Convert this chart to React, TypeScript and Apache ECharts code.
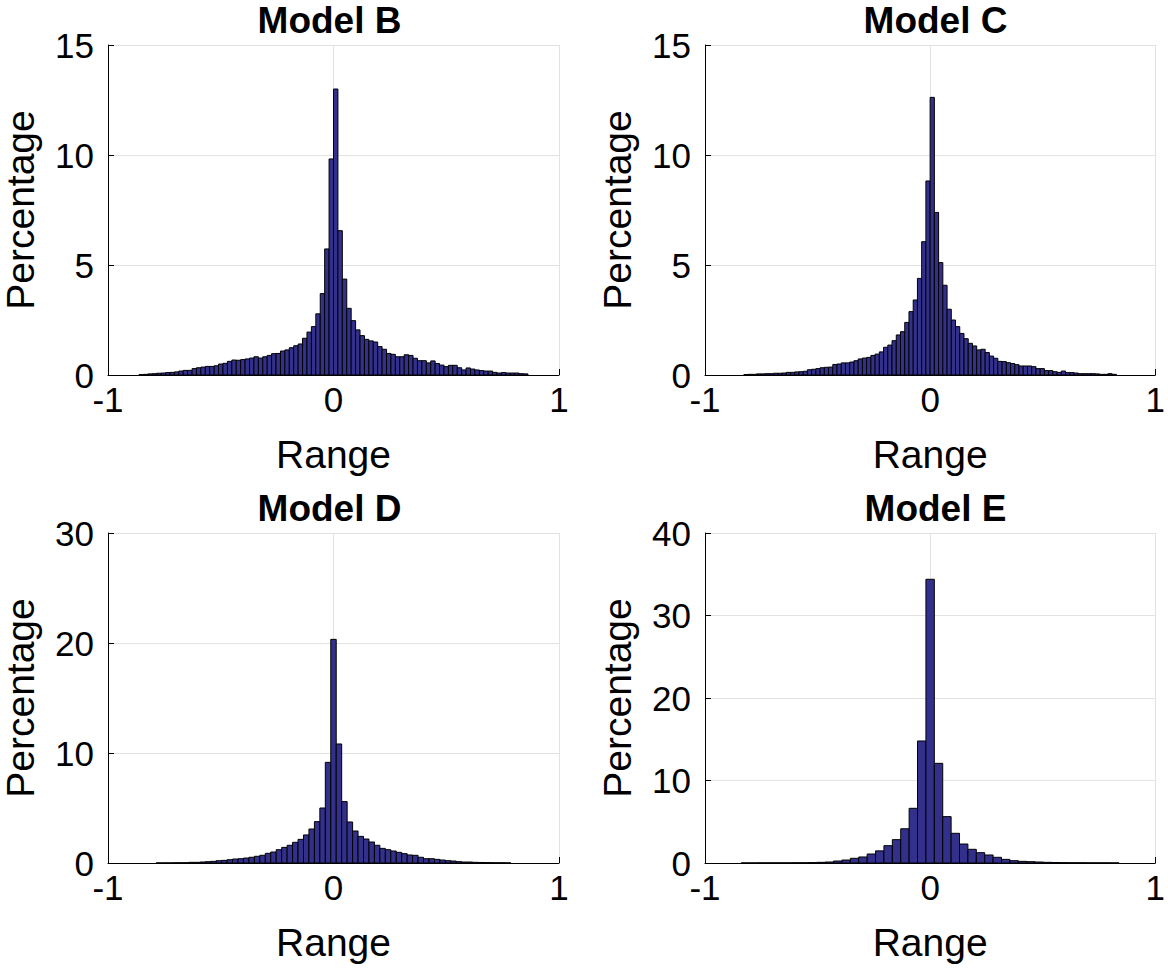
import React, { useEffect, useRef } from "react";
import * as echarts from "echarts";

const titles = ["Model B", "Model C", "Model D", "Model E"];
const xName = "Range";
const yName = "Percentage";
const xMin = -1;
const xMax = 1;
const xStep = 1;
const yMaxes = [15, 15, 30, 40];
const ySteps = [5, 5, 10, 10];

// Histogram bins: left edge of first bin, bin width, and bar heights (percentage)
const modelBStart = -0.8624;
const modelBWidth = 0.0196;
const modelBValues = [
  0.02, 0.03, 0.05, 0.06, 0.08, 0.09, 0.11, 0.12, 0.14, 0.18, 0.21, 0.21, 0.29, 0.33, 0.36,
  0.39, 0.39, 0.42, 0.5, 0.53, 0.62, 0.68, 0.67, 0.7, 0.73, 0.77, 0.83, 0.77, 0.83, 0.89,
  0.97, 0.98, 1.09, 1.14, 1.24, 1.33, 1.41, 1.67, 1.95, 2.2, 2.78, 3.7, 5.73, 9.82,
  13.0, 6.56, 4.36, 3.03, 2.47, 2.05, 1.79, 1.62, 1.55, 1.5, 1.29, 1.17, 0.98, 0.94, 0.83,
  0.83, 0.92, 0.89, 0.76, 0.65, 0.65, 0.55, 0.64, 0.52, 0.45, 0.38, 0.44, 0.44, 0.33, 0.23,
  0.32, 0.27, 0.23, 0.2, 0.18, 0.18, 0.12, 0.09, 0.11, 0.09, 0.09, 0.09, 0.06, 0.05,
];

const modelCStart = -0.8272;
const modelCWidth = 0.0188;
const modelCValues = [
  0.02, 0.03, 0.03, 0.05, 0.05, 0.06, 0.06, 0.08, 0.08, 0.09, 0.12, 0.12, 0.14, 0.15, 0.17,
  0.24, 0.26, 0.29, 0.33, 0.35, 0.36, 0.48, 0.5, 0.55, 0.55, 0.59, 0.65, 0.73, 0.77, 0.8,
  0.89, 0.95, 1.05, 1.26, 1.36, 1.56, 1.82, 1.97, 2.39, 2.88, 3.41, 4.39, 6.06, 8.82,
  12.62, 7.39, 5.11, 4.08, 2.99, 2.5, 2.2, 1.89, 1.65, 1.44, 1.32, 1.14, 1.17, 1.02, 0.86,
  0.76, 0.62, 0.61, 0.56, 0.52, 0.47, 0.41, 0.41, 0.41, 0.38, 0.29, 0.29, 0.2, 0.2, 0.15,
  0.12, 0.18, 0.11, 0.11, 0.09, 0.06, 0.06, 0.06, 0.06, 0.05, 0.03, 0.03, 0.06, 0.03,
];

const modelDStart = -0.7865;
const modelDWidth = 0.0242;
const modelDValues = [
  0.01, 0.01, 0.01, 0.02, 0.02, 0.03, 0.06, 0.06, 0.09, 0.12, 0.15, 0.21, 0.24, 0.3, 0.36,
  0.39, 0.45, 0.52, 0.61, 0.7, 0.88, 1.0, 1.21, 1.42, 1.61, 1.88, 2.15, 2.55, 3.09, 3.76,
  5.0, 9.15,
  20.33,
  10.82, 5.58, 3.73, 2.91, 2.42, 2.18, 1.91, 1.61, 1.33, 1.21, 1.09, 0.97, 0.85, 0.73, 0.7,
  0.52, 0.39, 0.39, 0.33, 0.27, 0.21, 0.18, 0.12, 0.09, 0.09, 0.06, 0.05, 0.04, 0.03, 0.02,
  0.02, 0.01,
];

const modelEStart = -0.8393;
const modelEWidth = 0.0373;
const modelEValues = [
  0.01, 0.01, 0.02, 0.02, 0.02, 0.02, 0.03, 0.03, 0.05, 0.08, 0.12, 0.24, 0.36, 0.57, 0.73,
  1.09, 1.47, 2.1, 2.83, 4.15, 6.63, 14.79,
  34.39,
  12.08, 5.62, 3.6, 2.3, 1.66, 1.25, 0.97, 0.69, 0.44, 0.28, 0.2, 0.16, 0.12, 0.08, 0.06,
  0.04, 0.03, 0.03, 0.02, 0.02, 0.02, 0.01,
];

const starts = [modelBStart, modelCStart, modelDStart, modelEStart];
const widths = [modelBWidth, modelCWidth, modelDWidth, modelEWidth];
const valueSets = [modelBValues, modelCValues, modelDValues, modelEValues];

const FONT = "'Liberation Sans', Arial, Helvetica, sans-serif";
const BAR = "#33308c";
const GRIDC = "#e2e2e2";

const grids = [
  { left: 100, top: 45, width: 459, height: 330 },
  { left: 705, top: 45, width: 461, height: 330 },
  { left: 100, top: 533, width: 459, height: 330 },
  { left: 705, top: 533, width: 461, height: 330 },
];

export default function App() {
  const ref = useRef<HTMLDivElement>(null);
  useEffect(() => {
    if (!ref.current) return;
    const chart = echarts.init(ref.current, undefined, { renderer: "svg" });
    const option: any = {
      animation: false,
      backgroundColor: "#fff",
      title: titles.map((t, i) => ({
        text: t,
        left: grids[i].left + grids[i].width / 2,
        top: grids[i].top - 43,
        textAlign: "center",
        padding: 0,
        textStyle: { fontFamily: FONT, fontSize: 37, fontWeight: "bold", color: "#000" },
      })),
      grid: grids.map((g) => ({ ...g, containLabel: false })),
      xAxis: grids.map((_, i) => ({
        type: "value",
        gridIndex: i,
        min: xMin,
        max: xMax,
        interval: xStep,
        name: xName,
        nameLocation: "middle",
        nameGap: 60,
        nameTextStyle: { fontFamily: FONT, fontSize: 39, color: "#000" },
        axisLine: { show: true, onZero: false, lineStyle: { color: "#000", width: 1 } },
        axisTick: { show: true, inside: true, length: 6, lineStyle: { color: "#000" } },
        axisLabel: { fontFamily: FONT, fontSize: 35, color: "#000", margin: 7 },
        splitLine: { show: true, lineStyle: { color: GRIDC, width: 1 } },
      })),
      yAxis: grids.map((_, i) => ({
        type: "value",
        gridIndex: i,
        min: 0,
        max: yMaxes[i],
        interval: ySteps[i],
        name: yName,
        nameLocation: "middle",
        nameGap: 68,
        nameTextStyle: { fontFamily: FONT, fontSize: 39, color: "#000" },
        axisLine: { show: true, onZero: false, lineStyle: { color: "#000", width: 1 } },
        axisTick: { show: true, inside: true, length: 6, lineStyle: { color: "#000" } },
        axisLabel: { fontFamily: FONT, fontSize: 35, color: "#000", margin: 14 },
        splitLine: { show: true, lineStyle: { color: GRIDC, width: 1 } },
      })),
      series: valueSets.map((vals, i) => ({
        type: "custom",
        xAxisIndex: i,
        yAxisIndex: i,
        encode: { x: [0, 1], y: 2 },
        data: vals.map((v, k) => [starts[i] + k * widths[i], starts[i] + (k + 1) * widths[i], v]),
        renderItem: (params: any, api: any) => {
          const x0 = api.value(0);
          const x1 = api.value(1);
          const y = api.value(2);
          const p0 = api.coord([x0, y]);
          const p1 = api.coord([x1, 0]);
          return {
            type: "rect",
            shape: { x: p0[0], y: p0[1], width: p1[0] - p0[0], height: p1[1] - p0[1] },
            style: { fill: BAR, stroke: "#000", lineWidth: 1 },
          };
        },
      })),
    };
    chart.setOption(option);
    return () => chart.dispose();
  }, []);
  return (
    <div
      ref={ref}
      style={{ position: "absolute", left: 0, top: 0, width: 1168, height: 973, background: "#fff" }}
    />
  );
}
